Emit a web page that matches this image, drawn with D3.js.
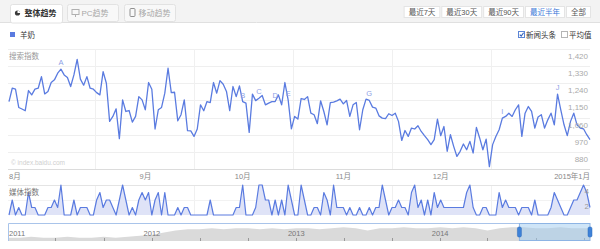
<!DOCTYPE html>
<html>
<head>
<meta charset="utf-8">
<script src="https://cdn.jsdelivr.net/npm/d3@7"></script>
<style>
	body { margin: 0; background: #fff; }
	svg { display: block; font-family: 'Liberation Sans', 'Noto Sans CJK SC', sans-serif; }
</style>
</head>
<body>
<svg id="chart" width="600" height="249"></svg>
<script>
/* global d3 */

// daily values, first day below
const startDate = new Date( 2014, 6, 21 );

const searchIndex = [
	1144, 1214, 1209, 1113, 1105, 1096, 1202, 1179, 1209, 1214,
	1275, 1184, 1197, 1244, 1258, 1293, 1314, 1284, 1270, 1223,
	1284, 1366, 1262, 1230, 1275, 1214, 1209, 1191, 1179, 1301,
	1240, 1040, 1066, 1106, 949, 1153, 1092, 1097, 1036, 1066,
	1170, 1153, 1101, 1244, 1209, 1000, 1101, 1113, 1188, 1319,
	1191, 1193, 1043, 1075, 1153, 991, 990, 961, 1000, 1127,
	1096, 1144, 1139, 1244, 1188, 1254, 1235, 1197, 1096, 1223,
	1170, 1226, 1144, 1136, 982, 1183, 1149, 1162, 1176, 1127,
	1136, 1144, 1144, 1179, 1127, 1244, 1153, 1001, 1066, 1052,
	1160, 1155, 1170, 1083, 1075, 1028, 1148, 1092, 1022, 1139,
	1141, 1148, 1157, 1132, 1150, 1066, 1127, 1139, 996, 1101,
	1157, 1150, 1115, 1110, 1069, 1057, 1054, 1080, 1071, 1083,
	1040, 940, 992, 961, 1005, 1000, 1017, 987, 965, 944,
	918, 944, 1052, 965, 1013, 883, 970, 909, 856, 883,
	921, 891, 935, 874, 1008, 953, 891, 947, 802, 918,
	961, 996, 1057, 1066, 1083, 1066, 1101, 1127, 961, 1083,
	1118, 1092, 1005, 1063, 1075, 1005, 1048, 1083, 1022, 1183,
	1101, 1022, 965, 1040, 1083, 1022, 1005, 1001, 970, 944,
];

const mediaIndex = [
	0, 2, 0, 1, 0, 0, 3, 1, 1, 0,
	0, 0, 1, 1, 2, 1, 4, 0, 0, 0,
	2, 0, 1, 1, 1, 0, 0, 2, 3, 1,
	2, 2, 1, 0, 2, 4, 2, 0, 1, 0,
	2, 3, 2, 3, 0, 2, 3, 0, 3, 0,
	0, 0, 1, 0, 1, 1, 0, 0, 0, 0,
	0, 0, 2, 0, 0, 0, 0, 0, 0, 0,
	1, 1, 4, 0, 0, 0, 1, 4, 4, 2,
	2, 0, 2, 0, 2, 0, 4, 2, 0, 0,
	4, 2, 0, 0, 1, 1, 0, 3, 2, 0,
	4, 1, 1, 1, 0, 1, 0, 0, 1, 0,
	0, 1, 0, 1, 1, 4, 2, 0, 1, 1,
	2, 1, 1, 0, 3, 4, 1, 2, 0, 2,
	0, 3, 1, 2, 1, 1, 1, 1, 1, 1,
	1, 3, 4, 1, 0, 0, 1, 1, 0, 0,
	0, 3, 1, 2, 1, 1, 1, 0, 1, 1,
	1, 0, 2, 0, 0, 0, 0, 1, 3, 2,
	1, 0, 0, 1, 2, 2, 3, 4, 3, 1,
];

const searchTicks = [ 880, 970, 1060, 1150, 1240, 1330, 1420 ];
const mediaTicks = [ 2, 4 ];

const monthLabels = [ '8月', '9月', '10月', '11月', '12月', '2015年1月' ];
const monthStarts = [ '2014-08-01', '2014-09-01', '2014-10-01', '2014-11-01', '2014-12-01', '2015-01-01' ];

// news headline letters and the day (index into the series) they sit on
const newsLetters = [ 'A', 'B', 'C', 'D', 'E', 'G', 'I', 'J' ];
const newsDays = [ 16, 72, 77, 82, 86, 111, 152, 169 ];

const tabLabels = [ '整体趋势', 'PC趋势', '移动趋势' ];
const rangeButtons = [ '最近7天', '最近30天', '最近90天', '最近半年', '全部' ];

// overview strip: monthly level since Jan 2011
const historyStart = new Date( 2011, 0, 1 );
const historyValues = [
	3, 3, 4, 3, 3, 4, 3, 3, 4, 3, 4, 5,
	6, 8, 10, 11, 11, 12, 11, 12, 12, 11, 12, 11,
	12, 12, 11, 12, 13, 12, 10, 12, 12, 13, 12, 12,
	13, 12, 13, 12, 10, 12, 13, 13, 12, 12, 13, 12,
	12,
];
const yearLabels = [ '2011', '2012', '2013', '2014' ];

const LINE = '#5a7be0';
const svg = d3.select( '#chart' );

const parseDay = d3.timeParse( '%Y-%m-%d' );
const dates = searchIndex.map( ( d, i ) => d3.timeDay.offset( startDate, i ) );
const endDate = dates[ dates.length - 1 ];

const x = d3.scaleTime().domain( [ startDate, endDate ] ).range( [ 9, 590 ] );
const ySearch = d3.scaleLinear().domain( [ 790, 1420 ] ).range( [ 169, 49 ] );
const yMedia = d3.scaleLinear().domain( [ 0, 4 ] ).range( [ 215, 185 ] );

function drawHeader() {
	svg.append( 'rect' ).attr( 'width', 600 ).attr( 'height', 22 ).attr( 'fill', '#f3f3f3' );
	svg.append( 'line' )
		.attr( 'x1', 0 ).attr( 'x2', 600 ).attr( 'y1', 22.5 ).attr( 'y2', 22.5 )
		.attr( 'stroke', '#e0e0e0' );

	tabLabels.forEach( ( label, i ) => {
		const active = i === 0;
		const g = svg.append( 'g' ).attr( 'transform', `translate(${ 10.5 + i * 57 },4.5)` );
		g.append( 'rect' )
			.attr( 'width', active ? 52 : 51 )
			.attr( 'height', active ? 18.5 : 17 )
			.attr( 'rx', 2 )
			.attr( 'fill', active ? '#fff' : '#f8f8f8' )
			.attr( 'stroke', '#e2e2e2' );

		if ( i === 0 ) {
			g.append( 'circle' ).attr( 'cx', 7 ).attr( 'cy', 8.5 ).attr( 'r', 2.6 ).attr( 'fill', '#3a3a3a' );
			g.append( 'path' ).attr( 'd', 'M7,8.5 L7,5.9 A2.6,2.6 0 0 1 9.6,8.5 Z' ).attr( 'fill', '#fff' );
		} else if ( i === 1 ) {
			g.append( 'rect' ).attr( 'x', 4.5 ).attr( 'y', 5 ).attr( 'width', 7 ).attr( 'height', 5 ).attr( 'fill', 'none' ).attr( 'stroke', '#b0b0b0' );
			g.append( 'line' ).attr( 'x1', 8 ).attr( 'x2', 8 ).attr( 'y1', 10 ).attr( 'y2', 12.5 ).attr( 'stroke', '#b0b0b0' );
		} else {
			g.append( 'rect' ).attr( 'x', 5.5 ).attr( 'y', 4 ).attr( 'width', 5 ).attr( 'height', 8 ).attr( 'rx', 1 ).attr( 'fill', 'none' ).attr( 'stroke', '#909090' );
		}

		g.append( 'text' )
			.attr( 'x', 14 )
			.attr( 'y', 11.5 )
			.attr( 'font-size', 8 )
			.attr( 'font-weight', active ? 'bold' : 'normal' )
			.attr( 'fill', active ? '#333' : '#a8a8a8' )
			.text( label );
	} );

	// range buttons, laid out from the right edge
	let right = 591;
	const buttons = rangeButtons.map( ( label ) => {
		const g = svg.append( 'g' );
		const t = g.append( 'text' )
			.attr( 'font-size', 7.5 )
			.attr( 'fill', label === '最近半年' ? '#3a78d8' : '#555' )
			.text( label );
		return { g, t, w: t.node().getComputedTextLength() + 10 };
	} );
	for ( let i = buttons.length - 1; i >= 0; i-- ) {
		const b = buttons[ i ];
		const left = right - b.w;
		b.g.insert( 'rect', 'text' )
			.attr( 'x', left + 0.5 ).attr( 'y', 6.5 )
			.attr( 'width', b.w - 1 ).attr( 'height', 11 )
			.attr( 'fill', '#fff' ).attr( 'stroke', '#e4e4e4' );
		b.t.attr( 'x', left + 5 ).attr( 'y', 15 );
		right = left - 1;
	}
}

function drawLegend() {
	svg.append( 'rect' ).attr( 'x', 10 ).attr( 'y', 32 ).attr( 'width', 5 ).attr( 'height', 5 ).attr( 'fill', LINE );
	svg.append( 'text' ).attr( 'x', 20 ).attr( 'y', 38 ).attr( 'font-size', 7.5 ).attr( 'fill', '#333' ).text( '羊奶' );

	svg.append( 'rect' ).attr( 'x', 518.5 ).attr( 'y', 31.5 ).attr( 'width', 6 ).attr( 'height', 6 )
		.attr( 'fill', '#fff' ).attr( 'stroke', '#5c85d6' );
	svg.append( 'path' ).attr( 'd', 'M519.8,34.6 L521.2,36.1 L523.6,32.8' )
		.attr( 'fill', 'none' ).attr( 'stroke', '#2f5fb8' ).attr( 'stroke-width', 1.1 );
	svg.append( 'text' ).attr( 'x', 526 ).attr( 'y', 37.5 ).attr( 'font-size', 7.5 ).attr( 'fill', '#333' ).text( '新闻头条' );

	svg.append( 'rect' ).attr( 'x', 561.5 ).attr( 'y', 31.5 ).attr( 'width', 6 ).attr( 'height', 6 )
		.attr( 'fill', '#fff' ).attr( 'stroke', '#b5b5b5' );
	svg.append( 'text' ).attr( 'x', 569 ).attr( 'y', 37.5 ).attr( 'font-size', 7.5 ).attr( 'fill', '#333' ).text( '平均值' );
}

function drawGrid() {
	const months = monthStarts.map( parseDay );
	const mids = d3.pairs( months ).map( ( [ a, b ] ) => new Date( ( +a + +b ) / 2 ) );

	svg.append( 'g' ).selectAll( 'line' )
		.data( searchTicks )
		.join( 'line' )
		.attr( 'x1', 8 ).attr( 'x2', 590 )
		.attr( 'y1', ( d ) => Math.round( ySearch( d ) ) + 0.5 )
		.attr( 'y2', ( d ) => Math.round( ySearch( d ) ) + 0.5 )
		.attr( 'stroke', '#efefef' );

	[ [ 49, 169 ], [ 185, 215 ] ].forEach( ( [ top, bottom ] ) => {
		svg.append( 'g' ).selectAll( 'line' )
			.data( mids )
			.join( 'line' )
			.attr( 'x1', ( d ) => Math.round( x( d ) ) + 0.5 )
			.attr( 'x2', ( d ) => Math.round( x( d ) ) + 0.5 )
			.attr( 'y1', top ).attr( 'y2', bottom )
			.attr( 'stroke', '#f0f0f0' );
	} );

	svg.append( 'line' ).attr( 'x1', 8 ).attr( 'x2', 590 ).attr( 'y1', 169.5 ).attr( 'y2', 169.5 ).attr( 'stroke', '#dcdcdc' );
	svg.append( 'line' ).attr( 'x1', 8 ).attr( 'x2', 590 ).attr( 'y1', 185.5 ).attr( 'y2', 185.5 ).attr( 'stroke', '#e4e4e4' );
	svg.append( 'line' ).attr( 'x1', 8 ).attr( 'x2', 590 ).attr( 'y1', 200.5 ).attr( 'y2', 200.5 ).attr( 'stroke', '#f2f2f2' );

	// month labels: the first and last one hug the plot edges
	svg.append( 'g' ).selectAll( 'text' )
		.data( monthLabels )
		.join( 'text' )
		.attr( 'x', ( d, i ) => {
			if ( i === 0 ) {
				return x.range()[ 0 ];
			}
			if ( i === monthLabels.length - 1 ) {
				return x.range()[ 1 ];
			}
			return x( months[ i ] );
		} )
		.attr( 'text-anchor', ( d, i ) => {
			if ( i === 0 ) {
				return 'start';
			}
			return i === monthLabels.length - 1 ? 'end' : 'middle';
		} )
		.attr( 'y', 179 )
		.attr( 'font-size', 7.5 )
		.attr( 'fill', '#888' )
		.text( ( d ) => d );
}

function drawSearch() {
	const line = d3.line()
		.x( ( d, i ) => x( dates[ i ] ) )
		.y( ( d ) => ySearch( d ) );

	svg.append( 'path' )
		.datum( searchIndex )
		.attr( 'fill', 'none' )
		.attr( 'stroke', LINE )
		.attr( 'stroke-width', 1.3 )
		.attr( 'stroke-linejoin', 'round' )
		.attr( 'd', line );

	svg.append( 'g' ).selectAll( 'text' )
		.data( newsLetters )
		.join( 'text' )
		.attr( 'x', ( d, i ) => x( dates[ newsDays[ i ] ] ) )
		.attr( 'y', ( d, i ) => ySearch( searchIndex[ newsDays[ i ] ] ) - 4 )
		.attr( 'text-anchor', 'middle' )
		.attr( 'font-size', 7.5 )
		.attr( 'fill', '#8f9fe6' )
		.text( ( d ) => d );

	svg.append( 'text' ).attr( 'x', 9 ).attr( 'y', 58.5 ).attr( 'font-size', 7.5 ).attr( 'fill', '#999' ).text( '搜索指数' );

	svg.append( 'g' ).selectAll( 'text' )
		.data( searchTicks )
		.join( 'text' )
		.attr( 'x', 588 )
		.attr( 'y', ( d ) => ySearch( d ) + 10 )
		.attr( 'text-anchor', 'end' )
		.attr( 'font-size', 8 )
		.attr( 'fill', '#aaa' )
		.text( d3.format( ',' ) );

	svg.append( 'text' ).attr( 'x', 11 ).attr( 'y', 165 ).attr( 'font-size', 6.5 ).attr( 'fill', '#cfcfcf' ).text( '© index.baidu.com' );
}

function drawMedia() {
	const area = d3.area()
		.x( ( d, i ) => x( dates[ i ] ) )
		.y0( yMedia( 0 ) )
		.y1( ( d ) => yMedia( d ) );
	const line = d3.line()
		.x( ( d, i ) => x( dates[ i ] ) )
		.y( ( d ) => yMedia( d ) );

	svg.append( 'path' ).datum( mediaIndex ).attr( 'fill', '#dfe3f7' ).attr( 'd', area );
	svg.append( 'path' )
		.datum( mediaIndex )
		.attr( 'fill', 'none' )
		.attr( 'stroke', LINE )
		.attr( 'stroke-width', 1.2 )
		.attr( 'stroke-linejoin', 'round' )
		.attr( 'd', line );

	svg.append( 'text' ).attr( 'x', 9 ).attr( 'y', 195 ).attr( 'font-size', 7.5 ).attr( 'fill', '#777' ).text( '媒体指数' );

	svg.append( 'g' ).selectAll( 'text' )
		.data( mediaTicks )
		.join( 'text' )
		.attr( 'x', 589 )
		.attr( 'y', ( d ) => yMedia( d ) + 9 )
		.attr( 'text-anchor', 'end' )
		.attr( 'font-size', 8 )
		.attr( 'fill', '#999' )
		.text( ( d ) => d );
}

function drawNavigator() {
	const histDates = historyValues.map( ( d, i ) => d3.timeMonth.offset( historyStart, i ) );
	const navX = d3.scaleTime().domain( [ historyStart, endDate ] ).range( [ 8, 590 ] );
	const navY = d3.scaleLinear().domain( [ 0, 16 ] ).range( [ 241, 224 ] );

	const area = d3.area()
		.x( ( d ) => navX( d[ 0 ] ) )
		.y0( navY( 0 ) )
		.y1( ( d ) => navY( d[ 1 ] ) );
	const points = histDates.map( ( d, i ) => [ d, historyValues[ i ] ] );
	points.push( [ endDate, historyValues[ historyValues.length - 1 ] ] );

	svg.append( 'path' ).datum( points ).attr( 'fill', '#dadada' ).attr( 'd', area );

	// year ticks every four months
	svg.append( 'g' ).selectAll( 'line' )
		.data( d3.timeMonth.every( 4 ).range( d3.timeDay.offset( historyStart, 1 ), endDate ) )
		.join( 'line' )
		.attr( 'x1', ( d ) => Math.round( navX( d ) ) + 0.5 )
		.attr( 'x2', ( d ) => Math.round( navX( d ) ) + 0.5 )
		.attr( 'y1', 238 ).attr( 'y2', 241 )
		.attr( 'stroke', '#999' );

	svg.append( 'g' ).selectAll( 'text' )
		.data( yearLabels )
		.join( 'text' )
		.attr( 'x', ( d, i ) => ( i === 0 ? 9 : navX( new Date( +d, 0, 1 ) ) ) )
		.attr( 'text-anchor', ( d, i ) => ( i === 0 ? 'start' : 'middle' ) )
		.attr( 'y', 235.5 )
		.attr( 'font-size', 7.5 )
		.attr( 'fill', '#777' )
		.text( ( d ) => d );

	svg.append( 'path' )
		.attr( 'd', 'M8.5,241 V223.5 H590' )
		.attr( 'fill', 'none' )
		.attr( 'stroke', '#a9c4ea' );

	const selLeft = navX( startDate );
	const selRight = navX( endDate );
	svg.append( 'rect' )
		.attr( 'x', selLeft ).attr( 'y', 223.5 )
		.attr( 'width', selRight - selLeft ).attr( 'height', 17 )
		.attr( 'fill', 'rgba(160,204,240,0.5)' )
		.attr( 'stroke', '#8db4e4' );

	[ selLeft, selRight ].forEach( ( hx ) => {
		svg.append( 'rect' )
			.attr( 'x', hx - 2 ).attr( 'y', 227 )
			.attr( 'width', 4 ).attr( 'height', 10 )
			.attr( 'rx', 1.5 )
			.attr( 'fill', '#3f82d8' )
			.attr( 'stroke', '#2a68b8' )
			.attr( 'stroke-width', 0.5 );
	} );
}

drawHeader();
drawLegend();
drawGrid();
drawSearch();
drawMedia();
drawNavigator();
</script>
</body>
</html>
